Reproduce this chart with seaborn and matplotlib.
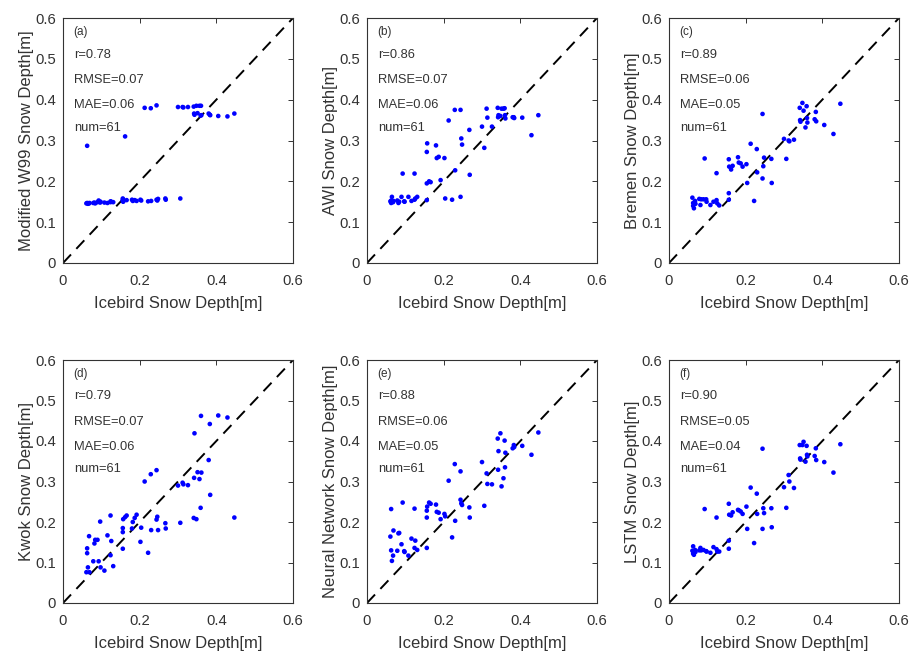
import numpy as np
import pandas as pd
import matplotlib
matplotlib.use("Agg")
import matplotlib.pyplot as plt
import seaborn as sns

# Icebird airborne snow depth (reference), shared by all panels [m]
icebird = [0.061, 0.063, 0.063, 0.065, 0.068, 0.069, 0.079, 0.082, 0.084, 0.090,
           0.093, 0.097, 0.098, 0.108, 0.116, 0.124, 0.124, 0.126, 0.131, 0.156,
           0.156, 0.156, 0.157, 0.162, 0.166, 0.180, 0.182, 0.187, 0.192, 0.202,
           0.204, 0.213, 0.222, 0.229, 0.230, 0.244, 0.244, 0.246, 0.248, 0.267,
           0.268, 0.300, 0.306, 0.312, 0.314, 0.326, 0.341, 0.342, 0.343, 0.348,
           0.351, 0.356, 0.359, 0.360, 0.361, 0.380, 0.383, 0.384, 0.405, 0.429,
           0.447]

# Product snow depths at the same locations [m]
w99_mod = [0.146, 0.287, 0.147, 0.145, 0.146, 0.147, 0.147, 0.148, 0.146, 0.149,
           0.153, 0.148, 0.150, 0.148, 0.147, 0.151, 0.149, 0.150, 0.149, 0.152,
           0.155, 0.158, 0.150, 0.310, 0.154, 0.155, 0.152, 0.154, 0.152, 0.155,
           0.153, 0.380, 0.151, 0.379, 0.152, 0.386, 0.155, 0.153, 0.157, 0.158,
           0.155, 0.382, 0.158, 0.382, 0.381, 0.382, 0.383, 0.366, 0.363, 0.385,
           0.367, 0.385, 0.361, 0.385, 0.362, 0.366, 0.363, 0.362, 0.360, 0.359,
           0.366]

awi = [0.151, 0.147, 0.153, 0.162, 0.149, 0.152, 0.153, 0.147, 0.150, 0.162,
       0.219, 0.151, 0.150, 0.162, 0.152, 0.219, 0.155, 0.158, 0.162, 0.154,
       0.195, 0.272, 0.293, 0.200, 0.198, 0.288, 0.257, 0.260, 0.203, 0.257,
       0.158, 0.349, 0.155, 0.375, 0.227, 0.375, 0.162, 0.305, 0.290, 0.326,
       0.216, 0.334, 0.282, 0.378, 0.356, 0.334, 0.380, 0.357, 0.362, 0.360,
       0.378, 0.378, 0.379, 0.362, 0.354, 0.357, 0.357, 0.355, 0.356, 0.313,
       0.362]

bremen = [0.160, 0.147, 0.140, 0.134, 0.152, 0.145, 0.157, 0.142, 0.156, 0.156,
          0.256, 0.156, 0.150, 0.142, 0.150, 0.220, 0.154, 0.146, 0.141, 0.171,
          0.155, 0.254, 0.236, 0.229, 0.238, 0.259, 0.246, 0.244, 0.236, 0.242,
          0.196, 0.292, 0.152, 0.279, 0.222, 0.365, 0.207, 0.237, 0.258, 0.255,
          0.196, 0.304, 0.255, 0.300, 0.298, 0.302, 0.380, 0.350, 0.346, 0.392,
          0.373, 0.332, 0.384, 0.355, 0.344, 0.352, 0.370, 0.347, 0.338, 0.316,
          0.390]

kwok = [0.076, 0.135, 0.123, 0.088, 0.165, 0.076, 0.103, 0.147, 0.156, 0.156,
        0.103, 0.201, 0.088, 0.080, 0.167, 0.216, 0.118, 0.153, 0.091, 0.185,
        0.175, 0.134, 0.207, 0.212, 0.216, 0.184, 0.200, 0.210, 0.218, 0.151,
        0.186, 0.300, 0.124, 0.318, 0.180, 0.328, 0.206, 0.213, 0.180, 0.197,
        0.184, 0.290, 0.198, 0.297, 0.293, 0.291, 0.210, 0.309, 0.419, 0.207,
        0.323, 0.306, 0.235, 0.462, 0.322, 0.353, 0.442, 0.267, 0.463, 0.458,
        0.211]

neural_net = [0.164, 0.232, 0.130, 0.104, 0.117, 0.179, 0.129, 0.172, 0.173, 0.145,
              0.248, 0.128, 0.126, 0.117, 0.159, 0.233, 0.136, 0.154, 0.131, 0.136,
              0.211, 0.228, 0.238, 0.248, 0.245, 0.243, 0.225, 0.223, 0.207, 0.220,
              0.214, 0.302, 0.162, 0.343, 0.203, 0.325, 0.255, 0.246, 0.242, 0.236,
              0.211, 0.348, 0.240, 0.320, 0.294, 0.293, 0.406, 0.329, 0.375, 0.419,
              0.288, 0.308, 0.401, 0.335, 0.371, 0.382, 0.390, 0.385, 0.388, 0.366,
              0.421]

lstm = [0.129, 0.140, 0.122, 0.119, 0.131, 0.126, 0.130, 0.136, 0.130, 0.131,
        0.232, 0.128, 0.127, 0.124, 0.138, 0.211, 0.133, 0.127, 0.127, 0.134,
        0.154, 0.245, 0.218, 0.216, 0.224, 0.230, 0.229, 0.226, 0.220, 0.238,
        0.183, 0.285, 0.148, 0.270, 0.220, 0.381, 0.183, 0.234, 0.222, 0.234,
        0.187, 0.286, 0.235, 0.316, 0.300, 0.284, 0.390, 0.357, 0.354, 0.390,
        0.398, 0.349, 0.388, 0.366, 0.362, 0.363, 0.382, 0.353, 0.348, 0.322,
        0.392]

panel_tags = ["(a)", "(b)", "(c)", "(d)", "(e)", "(f)"]
y_labels = ["Modified W99 Snow Depth[m]", "AWI Snow Depth[m]", "Bremen Snow Depth[m]",
            "Kwok Snow Depth[m]", "Neural Network Snow Depth[m]", "LSTM Snow Depth[m]"]
r_vals = ["0.78", "0.86", "0.89", "0.79", "0.88", "0.90"]
rmse_vals = ["0.07", "0.07", "0.06", "0.07", "0.06", "0.05"]
mae_vals = ["0.06", "0.06", "0.05", "0.06", "0.05", "0.04"]
n_points = ["61", "61", "61", "61", "61", "61"]
x_label = "Icebird Snow Depth[m]"
x_ticks = [0, 0.2, 0.4, 0.6]
y_ticks = [0, 0.1, 0.2, 0.3, 0.4, 0.5, 0.6]

products = [w99_mod, awi, bremen, kwok, neural_net, lstm]

sns.set_theme(style="white")
plt.rcParams["font.family"] = ["Liberation Sans", "DejaVu Sans"]
ink = "#333333"
plt.rcParams.update({
    "axes.edgecolor": ink,
    "axes.linewidth": 0.8,
    "xtick.color": ink,
    "ytick.color": ink,
    "axes.labelcolor": ink,
    "text.color": ink,
})

fig = plt.figure(figsize=(9.12, 6.51), dpi=100)
fig.patch.set_facecolor("white")

W, H = 912, 651
lefts = [63, 367, 669]
tops = [18, 360]
bottoms = [263, 603]
ax_w = 230

for i, (vals, tag, ylab) in enumerate(zip(products, panel_tags, y_labels)):
    row, col = divmod(i, 3)
    ax = fig.add_axes([lefts[col] / W, 1 - bottoms[row] / H,
                       ax_w / W, (bottoms[row] - tops[row]) / H])
    df = pd.DataFrame({"icebird": icebird, "product": vals})
    ax.plot([0, 0.6], [0, 0.6], ls=(0, (6, 4)), color="black", lw=1.4, zorder=1)
    sns.scatterplot(data=df, x="icebird", y="product", ax=ax, color="#0000ff",
                    s=11, edgecolor="none", linewidth=0, zorder=3)
    ax.set_xlim(0, 0.6)
    ax.set_ylim(0, 0.6)
    ax.set_xticks(x_ticks)
    ax.set_xticklabels([f"{t:g}" for t in x_ticks])
    ax.set_yticks(y_ticks)
    ax.set_yticklabels([f"{t:g}" for t in y_ticks])
    ax.tick_params(direction="in", length=3.5, width=0.7, labelsize=10.7,
                   top=True, right=True)
    ax.tick_params(axis="x", pad=8)
    ax.tick_params(axis="y", pad=5)
    ax.set_xlabel(x_label, fontsize=12, labelpad=6)
    ax.set_ylabel(ylab, fontsize=12, labelpad=1)
    for sp in ax.spines.values():
        sp.set_visible(True)
        sp.set_color(ink)

    lines = [(0.565, tag, 8.5), (0.51, f"r={r_vals[i]}", 9.3),
             (0.448, f"RMSE={rmse_vals[i]}", 9.3), (0.386, f"MAE={mae_vals[i]}", 9.3),
             (0.331, f"num={n_points[i]}", 9.3)]
    for yy, txt, fs in lines:
        ax.text(0.028, yy, txt, fontsize=fs, ha="left", va="center", color=ink)

fig.savefig("out.png", dpi=100, facecolor="white")
